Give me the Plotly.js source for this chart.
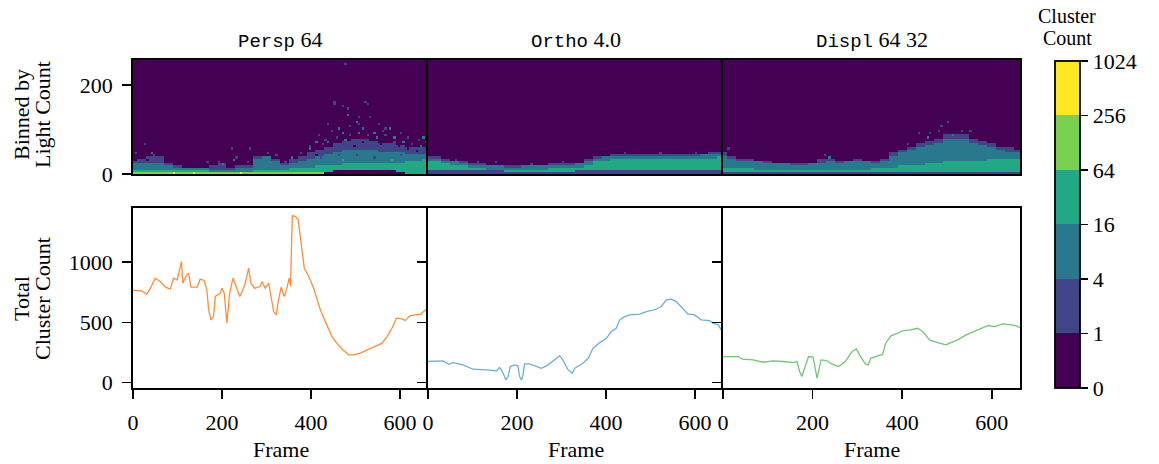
<!DOCTYPE html>
<html><head><meta charset="utf-8">
<script src="https://cdn.plot.ly/plotly-3.0.1.min.js"></script>
<style>body{margin:0;background:#fff}#chart{width:1159px;height:464px}</style>
</head><body><div id="chart"></div>
<script>
// ---------- Line data (Total Cluster Count per frame) ----------
const perspFrame = [0,20,31,39,50,61,73,84,91,99,109,112,121,125,130,144,151,160,166,170,175,181,185,196,200,205,211,217,225,232,240,247,252,260,265,273,286,290,297,305,310,316,322,327,333,340,346,351,354,358,365,371,376,385,395,406,421,436,447,458,470,485,496,511,526,541,560,571,582,592,604,612,622,634,647,653,663];
const perspCount = [765,762,734,784,867,839,792,776,867,853,1005,825,895,908,792,792,859,848,770,604,521,548,715,742,784,742,493,742,867,798,715,770,825,950,825,784,798,839,784,825,715,590,562,687,792,715,784,867,798,1385,1380,1352,1213,950,881,784,604,479,382,327,277,230,230,244,271,299,327,382,451,535,529,515,554,562,568,590,618];

const orthoFrame = [0,34,47,56,79,101,131,154,161,169,175,180,185,195,202,206,210,213,217,228,240,255,270,285,296,303,315,324,330,348,360,371,386,401,412,423,431,442,453,476,491,513,524,536,547,558,573,584,599,614,633,640,652,663];
const orthoCount = [175,180,152,166,147,111,105,97,125,78,22,50,133,147,139,50,22,50,155,155,139,119,147,194,222,188,105,78,119,161,202,285,332,368,424,451,521,548,562,568,590,609,632,687,693,673,618,571,562,521,515,493,479,415];

const displFrame = [0,34,43,67,90,112,135,157,165,171,176,182,191,201,206,210,214,219,232,243,258,273,288,298,307,318,324,330,352,356,363,375,390,401,419,434,446,461,479,498,506,524,543,562,577,592,607,625,644,655,665];
const displCount = [216,216,194,188,169,180,175,166,175,91,50,119,216,211,105,36,105,188,183,155,133,175,258,280,216,155,147,202,230,230,327,388,410,429,438,451,424,355,332,313,327,355,396,424,451,474,465,488,479,471,451];

// ---------- Heatmap profiles (light-count edges of each count level, sampled every 20 frames) ----------
const heatSampleFrames = [0,20,40,60,80,100,120,140,160,180,200,220,240,260,280,300,320,340,360,380,400,420,440,460,480,500,520,540,560,580,600,620,640,660];

const perspFloor = [0,0,0,0,0,0,0,0,0,0,0,0,0,0,0,0,0,0,0,0,0,2,5,8,10,10,10,10,10,8,5,2,0,0];
const perspT4 = [4,4,4,4,4,4,4,5,4,4,4,4,4,4,3,3,3,5,5,4,3,3,0,0,0,0,0,0,0,0,0,0,0,0];
const perspT3 = [10,10,10,10,9,8,8,8,8,7,7,7,7,7,8,8,9,12,14,14,16,18,20,22,24,26,26,26,26,26,26,30,32,34];
const perspT2 = [26,27,25,24,20,15,14,14,13,12,12,12,13,14,36,38,30,18,26,30,36,42,46,50,54,56,56,54,52,50,48,46,46,46];
const perspT1 = [32,34,40,38,24,18,16,15,15,20,26,16,18,22,40,40,36,26,34,40,48,56,62,68,74,78,80,76,72,70,66,62,60,58];
const perspDotFrame = [477,452,525,470,482,484,506,530,500,551,439,461,487,517,566,446,540,589,615,652,416,397,375,356,344,450,522,25,7,40,48,222,260,233,227,258,166,135,241,90,430,470,560,600,640,505,575,395,410,200,190,300,320,
  425,435,445,455,465,475,485,495,505,515,525,535,545,555,565,575,585,595,605,615,625,635,645,655,400,410,390,420,460,500,540,580,600,470,520,30,50];
const perspDotLight = [245,159,159,151,149,131,125,126,117,110,112,103,108,103,103,99,94,84,80,80,88,58,46,39,28,162,160,67,45,45,40,58,58,39,32,28,28,2,2,2,78,90,95,92,76,112,100,62,70,22,26,45,42,
  66,72,60,82,70,78,86,64,92,70,88,84,80,66,86,78,74,60,72,58,68,54,64,70,52,44,42,38,44,40,36,32,40,30,20,30,28];
const perspDotLevel = [1,1,1,1,1,2,1,1,2,1,1,2,1,2,1,1,2,2,1,2,1,2,1,2,1,1,1,1,1,2,1,1,1,1,2,1,1,5,5,5,1,2,1,1,1,1,2,1,2,2,1,1,1,
  1,2,0,1,0,2,1,0,2,0,1,0,2,0,1,0,1,0,2,0,1,0,2,1,0,0,1,1,1,1,1,3,1,3,3,0,1];

const orthoFloor = [8,8,8,8,8,8,8,8,8,7,7,7,7,7,7,7,7,8,8,9,9,10,10,10,10,10,10,10,10,10,10,10,10,10];
const orthoT4 = [0,0,0,0,0,0,0,0,0,0,0,0,0,0,0,0,0,0,0,0,0,0,0,0,0,0,0,0,0,0,0,0,0,0];
const orthoT3 = [30,30,26,22,18,14,13,12,12,11,11,12,12,12,13,13,14,16,22,28,32,33,34,35,35,36,36,36,36,36,36,37,37,38];
const orthoT2 = [36,36,32,28,24,21,20,19,18,17,17,18,18,19,20,21,22,24,30,34,38,39,40,41,41,42,42,42,42,42,42,43,43,44];
const orthoT1 = [40,40,36,32,28,25,24,22,21,20,20,21,21,22,23,24,25,27,34,38,42,43,44,45,46,46,46,47,46,46,46,47,48,48];
const orthoDotFrame = [150,230,300,440,520,600,60,110];
const orthoDotLight = [26,24,27,48,49,49,34,27];
const orthoDotLevel = [1,1,1,1,1,1,1,1];

const displFloor = [3,3,3,3,3,3,3,3,3,3,3,3,3,3,3,3,3,3,3,3,3,3,3,3,3,4,5,6,6,6,5,4,3,3];
const displT4 = [0,0,0,0,0,0,0,0,0,0,0,0,0,0,0,0,0,0,0,0,0,0,0,0,0,0,0,0,0,0,0,0,0,0];
const displT3 = [16,15,14,13,12,11,10,9,9,9,9,10,10,10,10,11,12,13,14,16,18,20,22,24,26,28,30,30,30,30,34,36,36,36];
const displT2 = [40,34,31,30,28,26,24,23,22,22,23,27,28,27,28,29,28,27,30,40,48,54,60,66,72,78,82,80,72,66,60,56,52,50];
const displT1 = [48,40,35,33,31,29,27,26,25,25,26,34,36,31,32,33,32,31,36,48,56,62,70,76,82,88,90,90,82,74,68,62,58,56];
const displDotFrame = [487,500,439,463,513,553,608,630,10,225,238,480,530,455,410];
const displDotLight = [106,115,91,91,88,99,61,54,55,40,36,95,95,80,66];
const displDotLevel = [1,1,1,1,2,1,1,1,1,1,2,1,1,2,1];

// ---------- Colour scale / ticks / texts ----------
const levelColors = ['#440154','#414487','#2a788e','#22a884','#7ad151','#fde725'];
const levelTickText = ['0','1','4','16','64','256','1024'];
const lineColors = ['#fd8d3c','#6baed6','#74c476'];
const titleMono = ['Persp', 'Ortho', 'Displ'];
const titleSerif = ['64', '4.0', '64 32'];
const MONO = 'font-family:Liberation Mono,monospace;font-size:19px';
const SER = 'font-family:Liberation Serif,serif;font-size:22px';

// ---------- grid builder ----------
const BIN_F = 5, BIN_L = 5, NX = 133, NY = 52;
const xCenters = [], yCenters = [];
for (let c = 0; c < NX; c++) xCenters.push(c * BIN_F + BIN_F / 2);
for (let r = 0; r < NY; r++) yCenters.push(r * BIN_L + BIN_L / 2);

function buildGrid(floor, t4, t3, t2, t1, floorLvl, dF, dL, dV) {
  const step = heatSampleFrames[1] - heatSampleFrames[0];
  const z = [];
  for (let r = 0; r < NY; r++) {
    const y = yCenters[r], row = [];
    for (let c = 0; c < NX; c++) {
      const s = Math.min(heatSampleFrames.length - 1, Math.round(xCenters[c] / step));
      let lvl;
      if (y < floor[s]) lvl = floorLvl;
      else if (y < t4[s]) lvl = 4;
      else if (y < t3[s]) lvl = 3;
      else if (y < t2[s]) lvl = 2;
      else if (y < t1[s]) lvl = 1;
      else lvl = 0;
      row.push(lvl);
    }
    z.push(row);
  }
  for (let i = 0; i < dF.length; i++) {
    const c = Math.min(NX - 1, Math.floor(dF[i] / BIN_F));
    const r = Math.min(NY - 1, Math.floor(dL[i] / BIN_L));
    z[r][c] = dV[i];
  }
  return z.map(row => row.map(v => v + 0.5));
}

const nL = levelColors.length;
const colorscale = [];
levelColors.forEach((col, i) => { colorscale.push([i / nL, col]); colorscale.push([(i + 1) / nL, col]); });

const grids = [
  buildGrid(perspFloor, perspT4, perspT3, perspT2, perspT1, 0, perspDotFrame, perspDotLight, perspDotLevel),
  buildGrid(orthoFloor, orthoT4, orthoT3, orthoT2, orthoT1, 1, orthoDotFrame, orthoDotLight, orthoDotLevel),
  buildGrid(displFloor, displT4, displT3, displT2, displT1, 1, displDotFrame, displDotLight, displDotLevel)
];

const W = 1159, H = 464;
const SERIF = 'Liberation Serif, serif';
const tickFont = {family: SERIF, size: 22, color: '#000'};
const colDom = [[133 / W, 428 / W], [428 / W, 723 / W], [723 / W, 1020 / W]];
const topDom = [1 - 174 / H, 1 - 60 / H];
const botDom = [1 - 388 / H, 1 - 208 / H];

const traces = [];
grids.forEach((z, i) => {
  const tr = {
    type: 'heatmap', z: z, x: xCenters, y: yCenters,
    xaxis: 'x' + (i === 0 ? '' : i + 1), yaxis: 'y' + (i === 0 ? '' : i + 1),
    colorscale: colorscale, zmin: 0, zmax: nL, zsmooth: false, hoverinfo: 'skip',
    showscale: i === 0
  };
  if (i === 0) {
    tr.colorbar = {
      tickmode: 'array', tickvals: levelTickText.map((t, k) => k), ticktext: levelTickText,
      ticks: 'outside', ticklen: 8, tickwidth: 1.5, tickcolor: '#000',
      outlinewidth: 1.8, outlinecolor: '#000',
      thickness: 25, thicknessmode: 'pixels',
      len: (388 - 61) / H, lenmode: 'fraction',
      x: 1055 / W, xanchor: 'left', y: 1 - 388 / H, yanchor: 'bottom',
      xpad: 0, ypad: 0, tickfont: tickFont, ticklabelstandoff: 4
    };
  }
  traces.push(tr);
});
const lineSets = [[perspFrame, perspCount], [orthoFrame, orthoCount], [displFrame, displCount]];
lineSets.forEach((ls, i) => {
  traces.push({
    type: 'scatter', mode: 'lines', x: ls[0], y: ls[1],
    xaxis: 'x' + (i + 4), yaxis: 'y' + (i + 4),
    line: {color: lineColors[i], width: 1.3}, hoverinfo: 'skip', showlegend: false
  });
});

const layout = {
  width: W, height: H, margin: {l: 0, r: 0, t: 0, b: 0, autoexpand: false},
  paper_bgcolor: '#fff', plot_bgcolor: '#fff', showlegend: false,
  annotations: []
};
const baseAxis = {showline: true, mirror: true, linecolor: '#000', linewidth: 1.8, showgrid: false, zeroline: false, tickfont: tickFont, tickcolor: '#000', tickwidth: 1.5, ticklen: 9};
for (let i = 0; i < 3; i++) {
  const sx = i === 0 ? '' : String(i + 1);
  const yMirror = i === 2; // only the last column draws its right edge, so inner borders are single lines
  layout['xaxis' + sx] = Object.assign({}, baseAxis, {domain: colDom[i], anchor: 'y' + sx, range: [0, 663], showticklabels: false, ticks: ''});
  layout['yaxis' + sx] = Object.assign({}, baseAxis, {domain: topDom, anchor: 'x' + sx, range: [0, 256], mirror: yMirror,
    tickmode: 'array', tickvals: [0, 200], ticks: i === 0 ? 'outside' : '', showticklabels: i === 0, ticklabelstandoff: 5});
  const bx = String(i + 4);
  layout['xaxis' + bx] = Object.assign({}, baseAxis, {domain: colDom[i], anchor: 'y' + bx, range: [0, 663],
    tickmode: 'array', tickvals: [0, 200, 400, 600], ticks: 'outside', ticklabelstandoff: 5});
  layout['yaxis' + bx] = Object.assign({}, baseAxis, {domain: botDom, anchor: 'x' + bx, range: [-45, 1450], mirror: yMirror,
    tickmode: 'array', tickvals: [0, 500, 1000], ticks: 'outside', showticklabels: i === 0, ticklabelstandoff: 5});
}
const annFont = {family: SERIF, size: 22, color: '#000'};
function ann(text, px, py, extra) {
  layout.annotations.push(Object.assign({text: text, x: px / W, y: 1 - py / H, xref: 'paper', yref: 'paper',
    showarrow: false, xanchor: 'center', yanchor: 'middle', font: annFont}, extra || {}));
}
const centers = [280.5, 575.5, 871.5];
titleMono.forEach((t, i) => ann('<span style="' + MONO + '">' + t + '</span><span style="' + SER + '"> ' + titleSerif[i] + '</span>', centers[i], 40));
centers.forEach(c => ann('Frame', c, 449));
ann('Binned by', 22, 115, {textangle: -90});
ann('Light Count', 43, 115, {textangle: -90});
ann('Total', 21, 299, {textangle: -90});
ann('Cluster Count', 42, 299, {textangle: -90});
ann('Cluster', 1067, 16, {font: {family: SERIF, size: 20, color: '#000'}});
ann('Count', 1067, 38, {font: {family: SERIF, size: 20, color: '#000'}});

Plotly.newPlot('chart', traces, layout, {displayModeBar: false, staticPlot: true});
</script></body></html>
